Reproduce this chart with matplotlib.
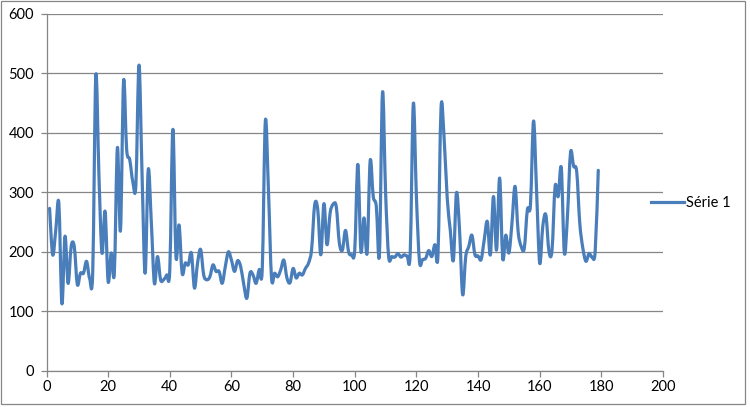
import matplotlib
matplotlib.use("Agg")
import matplotlib.pyplot as plt
from matplotlib.path import Path
from matplotlib.patches import PathPatch, Rectangle
from matplotlib.lines import Line2D
import numpy as np

series_name = "Série 1"
x_values = list(range(1, 180))
y_values = [
    273, 195, 236, 282, 113, 226, 147, 209, 209, 145,
    164, 164, 184, 155, 167, 496, 330, 198, 268, 150,
    198, 164, 375, 236, 487, 372, 355, 318, 313, 514,
    330, 164, 338, 250, 147, 192, 153, 153, 161, 170,
    406, 192, 245, 164, 181, 178, 198, 139, 181, 204,
    161, 153, 158, 178, 167, 167, 147, 175, 200, 186,
    167, 185, 175, 145, 122, 164, 161, 147, 170, 172,
    420, 304, 156, 164, 158, 170, 186, 156, 148, 172,
    156, 164, 161, 172, 181, 204, 279, 271, 195, 281,
    212, 265, 280, 276, 215, 203, 236, 200, 195, 203,
    347, 201, 257, 198, 353, 293, 276, 195, 468, 300,
    192, 192, 191, 197, 191, 195, 193, 199, 449, 293,
    184, 187, 189, 202, 192, 212, 195, 443, 390, 290,
    236, 186, 299, 236, 128, 192, 209, 228, 195, 193,
    187, 220, 251, 195, 293, 203, 324, 189, 228, 198,
    248, 310, 234, 209, 206, 271, 279, 420, 300, 181,
    243, 262, 201, 203, 310, 293, 341, 198, 260, 367,
    344, 335, 248, 206, 184, 197, 191, 201, 337,
]
x_ticks = [0, 20, 40, 60, 80, 100, 120, 140, 160, 180, 200]
y_ticks = [0, 100, 200, 300, 400, 500, 600]

line_color = "#4A7EBB"
grid_color = "#868686"
font = ["Lato", "DejaVu Sans"]

W, H = 750, 407
fig = plt.figure(figsize=(W / 100, H / 100), dpi=100)
ax = fig.add_axes([46.5 / W, (H - 370.7) / H, (663 - 46.5) / W, (370.7 - 14) / H])

ax.set_xlim(0, 200)
ax.set_ylim(0, 600)

# smooth line (Excel-style) built as cubic Bezier segments through the data points
xs = np.array(x_values, dtype=float)
ys = np.array(y_values, dtype=float)
n = len(xs)
verts = [(xs[0], ys[0])]
codes = [Path.MOVETO]
for i in range(n - 1):
    p0 = (xs[i - 1], ys[i - 1]) if i > 0 else (xs[i], ys[i])
    p1 = (xs[i], ys[i])
    p2 = (xs[i + 1], ys[i + 1])
    p3 = (xs[i + 2], ys[i + 2]) if i + 2 < n else (xs[i + 1], ys[i + 1])
    t = 1 / 6
    c1 = (p1[0] + (p2[0] - p0[0]) * t, p1[1] + (p2[1] - p0[1]) * t)
    c2 = (p2[0] - (p3[0] - p1[0]) * t, p2[1] - (p3[1] - p1[1]) * t)
    verts += [c1, c2, p2]
    codes += [Path.CURVE4] * 3
patch = PathPatch(Path(verts, codes), facecolor="none", edgecolor=line_color,
                  linewidth=2.3, capstyle="round", joinstyle="round", zorder=3)
ax.add_patch(patch)

ax.set_xticks(x_ticks)
ax.set_yticks(y_ticks)
ax.grid(axis="y", color=grid_color, linewidth=0.9)
ax.set_axisbelow(True)
for s in ["top", "right"]:
    ax.spines[s].set_visible(False)
for s in ["left", "bottom"]:
    ax.spines[s].set_color(grid_color)
    ax.spines[s].set_linewidth(0.9)
ax.tick_params(axis="both", colors=grid_color, length=4, width=0.9, direction="out",
               labelcolor="#000000", labelsize=10.5)
ax.tick_params(axis="y", pad=5)
ax.tick_params(axis="x", pad=3)
for lab in ax.get_xticklabels() + ax.get_yticklabels():
    lab.set_family(font)

handle = Line2D([], [], color=line_color, linewidth=2.3)
leg = fig.legend([handle], [series_name], loc="center left",
                 bbox_to_anchor=(645 / W, (H - 203) / H), frameon=False,
                 handlelength=2.3, handletextpad=0.1, borderaxespad=0,
                 prop={"family": font, "size": 10.5})

fig.add_artist(Rectangle((0.5 / W, 3 / H), 744.5 / W, 403.5 / H,
                         transform=fig.transFigure, fill=False,
                         edgecolor=grid_color, linewidth=0.9))

fig.savefig("out.png", dpi=100)
